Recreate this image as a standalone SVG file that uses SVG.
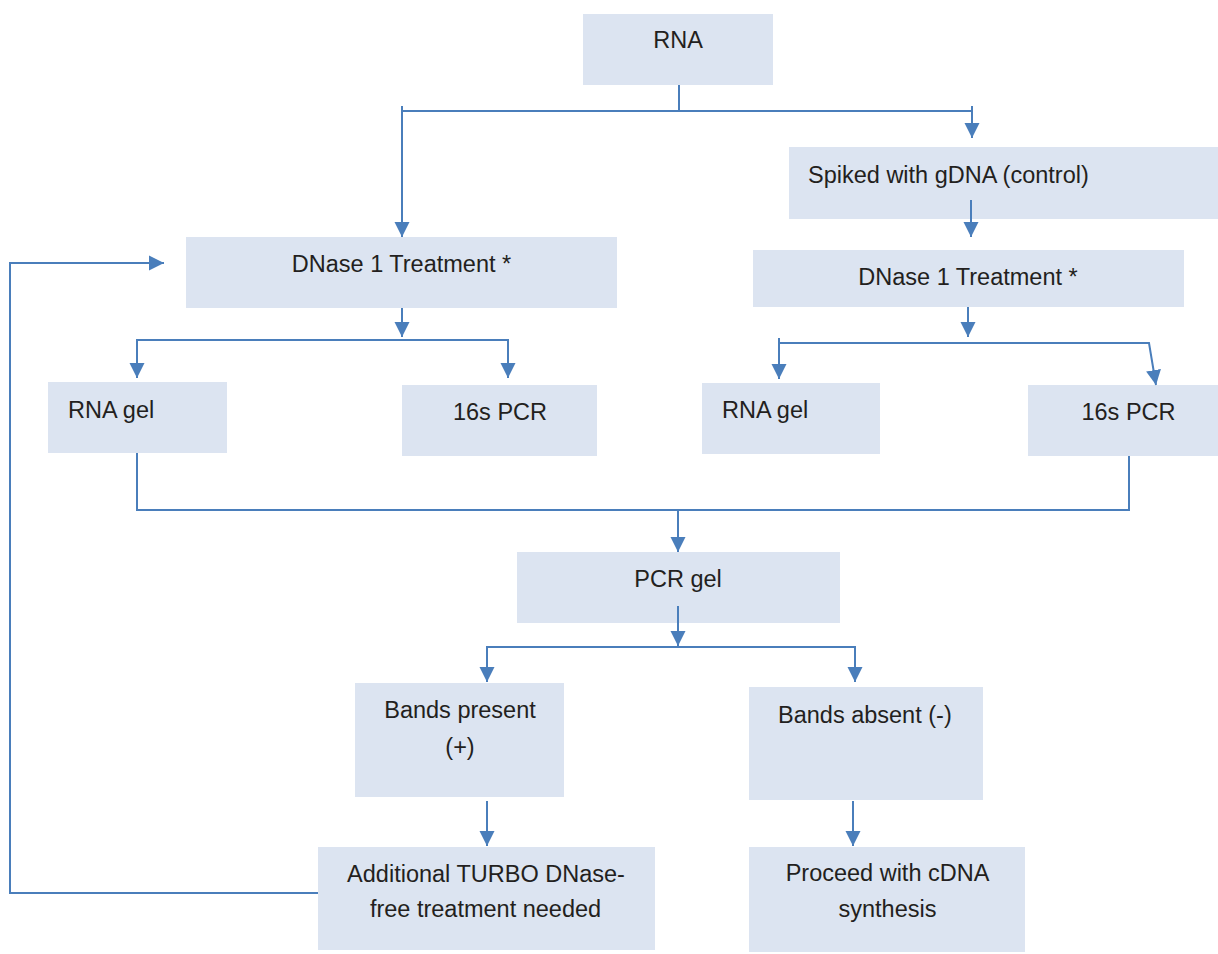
<svg xmlns="http://www.w3.org/2000/svg" width="1218" height="954" viewBox="0 0 1218 954">
<style>
.box{fill:#dce4f1;stroke:none}
.t{font-family:"Liberation Sans",Arial,sans-serif;font-size:23.5px;fill:#231f20}
.m{text-anchor:middle}
.c{fill:none;stroke:#4a7ebb;stroke-width:2}
</style>
<defs>
<marker id="ah" markerUnits="userSpaceOnUse" markerWidth="16" markerHeight="16" viewBox="0 0 16 16" refX="15" refY="8" orient="auto">
<path d="M0,0.5 L15,8 L0,15.5 Z" fill="#4a7ebb"/>
</marker>
</defs>
<rect width="1218" height="954" fill="#ffffff"/>
<g id="rna"><rect class="box" x="583" y="14" width="190" height="71"/><text class="t m" x="678" y="48">RNA</text></g>
<g id="spiked"><rect class="box" x="789" y="147" width="429" height="72"/><text class="t" x="808" y="183">Spiked with gDNA (control)</text></g>
<g id="dnase-left"><rect class="box" x="186" y="237" width="431" height="71"/><text class="t m" x="401.5" y="272">DNase 1 Treatment *</text></g>
<g id="dnase-right"><rect class="box" x="753" y="250" width="431" height="57"/><text class="t m" x="968" y="285">DNase 1 Treatment *</text></g>
<g id="rnagel-left"><rect class="box" x="48" y="382" width="179" height="71"/><text class="t" x="68" y="418">RNA gel</text></g>
<g id="pcr16s-left"><rect class="box" x="402" y="385" width="195" height="71"/><text class="t m" x="500" y="420">16s PCR</text></g>
<g id="rnagel-right"><rect class="box" x="702" y="383" width="178" height="71"/><text class="t" x="722" y="418">RNA gel</text></g>
<g id="pcr16s-right"><rect class="box" x="1028" y="385" width="190" height="71"/><text class="t m" x="1128.5" y="420">16s PCR</text></g>
<g id="pcrgel"><rect class="box" x="517" y="552" width="323" height="71"/><text class="t m" x="678" y="587">PCR gel</text></g>
<g id="bands-present"><rect class="box" x="355" y="683" width="209" height="114"/><text class="t m" x="460" y="718">Bands present</text><text class="t m" x="460" y="755">(+)</text></g>
<g id="bands-absent"><rect class="box" x="749" y="687" width="234" height="113"/><text class="t" x="778" y="723">Bands absent (-)</text></g>
<g id="turbo"><rect class="box" x="318" y="847" width="337" height="103"/><text class="t m" x="486" y="882">Additional TURBO DNase-</text><text class="t m" x="485.5" y="917">free treatment needed</text></g>
<g id="cdna"><rect class="box" x="749" y="847" width="276" height="105"/><text class="t m" x="887.5" y="881">Proceed with cDNA</text><text class="t m" x="887.5" y="917">synthesis</text></g>
<g id="connectors">
<path class="c" d="M679,85 V111"/>
<path class="c" d="M402,106 V111 H972 V106"/>
<path class="c" d="M402,111 V237" marker-end="url(#ah)"/>
<path class="c" d="M972,111 V138" marker-end="url(#ah)"/>
<path class="c" d="M971,200 V237" marker-end="url(#ah)"/>
<path class="c" d="M402,308 V337" marker-end="url(#ah)"/>
<path class="c" d="M137,378 V340 H508 V378" marker-end="url(#ah)"/>
<path class="c" d="M137,340 V378" marker-end="url(#ah)"/>
<path class="c" d="M968,307 V337" marker-end="url(#ah)"/>
<path class="c" d="M779,338 V343 H1149 L1156,385" marker-end="url(#ah)"/>
<path class="c" d="M779,343 V379" marker-end="url(#ah)"/>
<path class="c" d="M137,453 V510 H1129 V456"/>
<path class="c" d="M678,510 V552" marker-end="url(#ah)"/>
<path class="c" d="M678,606 V646" marker-end="url(#ah)"/>
<path class="c" d="M487,682 V647 H855 V682" marker-end="url(#ah)"/>
<path class="c" d="M487,647 V682" marker-end="url(#ah)"/>
<path class="c" d="M487,801 V846" marker-end="url(#ah)"/>
<path class="c" d="M853,801 V846" marker-end="url(#ah)"/>
<path class="c" d="M318,893 H10 V263 H164" marker-end="url(#ah)"/>
</g>
</svg>
